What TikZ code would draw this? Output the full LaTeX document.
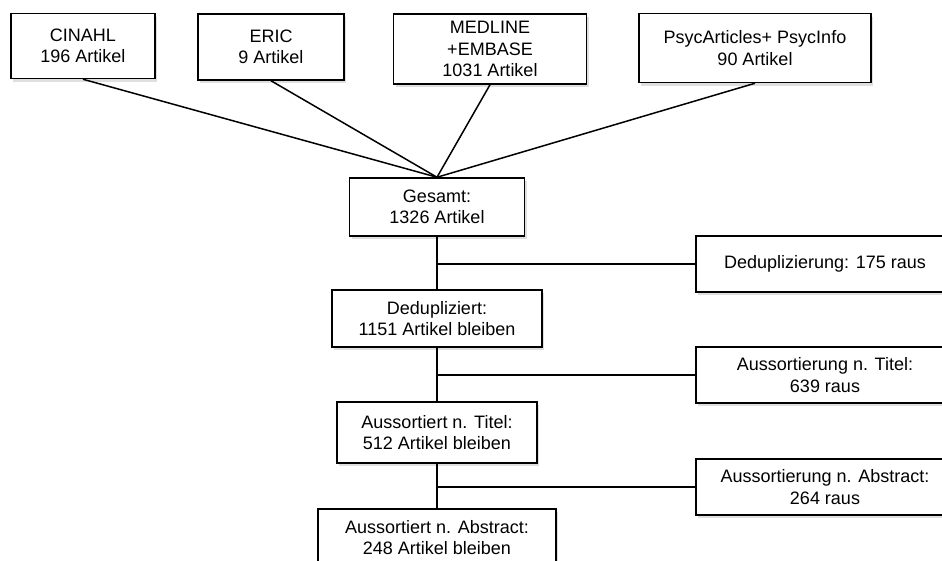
\documentclass[tikz,border=0pt]{standalone}
\usepackage{fontspec}
\setmainfont{Liberation Sans}
\usepackage{tikz}
\usetikzlibrary{shapes}
\usetikzlibrary{calc,backgrounds,shadows}
\usetikzlibrary{arrows,positioning}
\tikzstyle{Qstate}=[shape=rectangle,draw=black,fill=white,line width=1.5pt,align=center,inner sep=2pt,
  font=\fontsize{18}{21.5}\selectfont,
  drop shadow={shadow xshift=2pt,shadow yshift=-3pt,opacity=0.25}]
\tikzstyle{Rstate}=[Qstate,minimum width=258pt,minimum height=56pt]
\tikzstyle{plainedge}=[-,line width=1.5pt]

\begin{document}
\begin{tikzpicture}[x=1pt,y=-1pt]

\clip (0,0) rectangle (942,560);

% Datenbanken
\node[Qstate,minimum width=144pt,minimum height=65pt] (CINAHL) at (83,46){CINAHL\\196 Artikel};
\node[Qstate,minimum width=146pt,minimum height=66pt] (ERIC) at (271,47){ERIC\\9 Artikel};
\node[Qstate,minimum width=193pt,minimum height=70pt] (MED) at (490,49){MEDLINE\\+EMBASE\\1031 Artikel};
\node[Qstate,minimum width=232pt,minimum height=69pt] (PSYC) at (755,48){PsycArticles+ PsycInfo\\90 Artikel};

% Hauptstrang
\node[Qstate,minimum width=175pt,minimum height=58pt] (GES) at (437,207){Gesamt:\\1326 Artikel};
\node[Qstate,minimum width=210pt,minimum height=57pt] (DEDUP) at (437,318.5){Dedupliziert:\\1151 Artikel bleiben};
\node[Qstate,minimum width=200pt,minimum height=61pt] (TITEL) at (437,432.5){Aussortiert n. Titel:\\512 Artikel bleiben};
\node[Qstate,minimum width=238pt,minimum height=57pt] (ABS) at (437,537.5){Aussortiert n. Abstract:\\248 Artikel bleiben};

% Ausgeschlossen
\node[Rstate] (DRAUS) at (825,264){Deduplizierung: 175 raus};
\node[Rstate] (TRAUS) at (825,375){Aussortierung n. Titel:\\639 raus};
\node[Rstate] (ARAUS) at (825,487){Aussortierung n. Abstract:\\264 raus};

\coordinate (J1) at (GES.south |- DRAUS.west);
\coordinate (J2) at (GES.south |- TRAUS.west);
\coordinate (J3) at (GES.south |- ARAUS.west);

\path
(CINAHL.south) edge [plainedge] (GES.north)
(ERIC.south) edge [plainedge] (GES.north)
(MED.south) edge [plainedge] (GES.north)
(PSYC.south) edge [plainedge] (GES.north)

(GES) edge [plainedge] (DEDUP)
(DEDUP) edge [plainedge] (TITEL)
(TITEL) edge [plainedge] (ABS)

(J1) edge [plainedge] (DRAUS.west)
(J2) edge [plainedge] (TRAUS.west)
(J3) edge [plainedge] (ARAUS.west);

\end{tikzpicture}
\end{document}
